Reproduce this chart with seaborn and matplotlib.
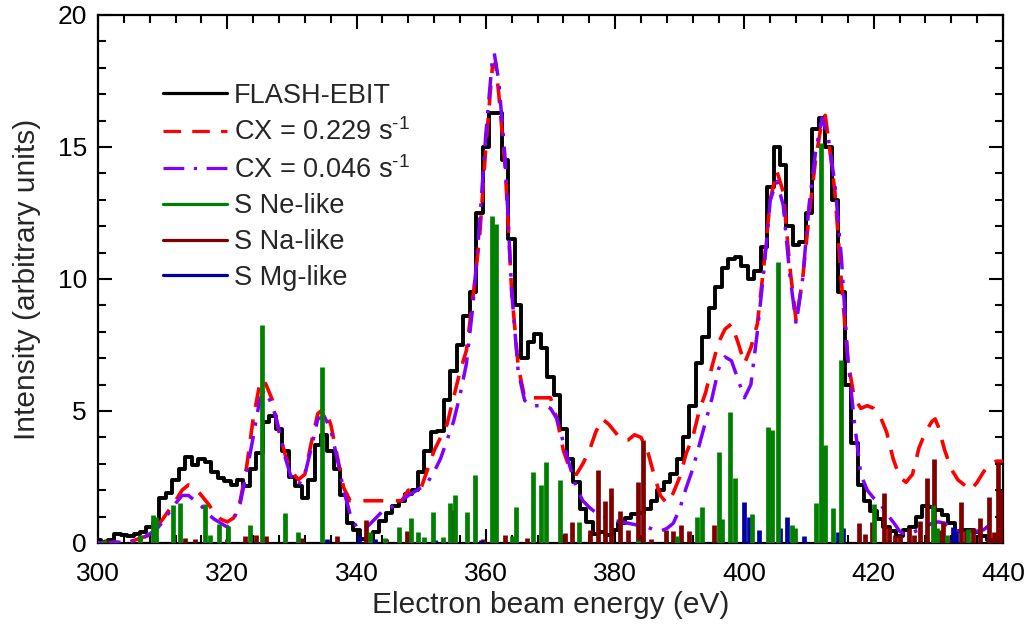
import numpy as np
import pandas as pd
import matplotlib
matplotlib.use("Agg")
import matplotlib.pyplot as plt
import seaborn as sns
from matplotlib.lines import Line2D

# ---------------- data ----------------
ebit_energy = list(range(300, 441))
ebit_intensity = [
    0.1, 0.05, 0.1, 0.35, 0.3, 0.25, 0.35, 0.4, 0.62, 0.75,
    1.7, 1.9, 2.4, 2.8, 3.25, 2.95, 3.2, 3.05, 2.7, 2.45,
    2.35, 2.2, 2.4, 2.15, 2.8, 3.4, 4.6, 4.8, 4.3, 3.5,
    2.5, 2.15, 1.7, 2.4, 3.7, 4.1, 3.5, 2.8, 1.8, 0.75,
    0.5, 0.15, 0.12, 0.4, 0.85, 1.15, 1.4, 1.6, 1.85, 2.0,
    2.7, 3.5, 4.2, 4.25, 5.4, 6.5, 7.5, 8.6, 9.5, 12.5,
    15.0, 16.3, 16.3, 14.5, 11.5, 9.0, 7.0, 7.6, 7.9, 7.4,
    6.3, 5.6, 4.3, 3.2, 2.3, 1.3, 0.8, 0.35, 0.4, 0.3,
    0.5, 0.75, 0.95, 1.1, 1.15, 1.3, 1.6, 2.0, 2.3, 2.6,
    3.2, 4.0, 5.2, 6.8, 7.8, 8.9, 9.7, 10.4, 10.75, 10.85,
    10.5, 10.0, 10.3, 11.2, 13.5, 15.0, 14.3, 12.0, 11.3, 11.4,
    12.5, 15.7, 16.1, 15.0, 13.0, 9.5, 6.0, 3.8, 2.2, 1.6,
    1.2, 0.9, 0.6, 0.45, 0.25, 0.5, 0.6, 1.0, 1.4, 1.35,
    1.25, 1.05, 0.75, 0.45, 0.5, 0.5, 0.4, 0.25, 0.12, 0.1,
    0.1,
]

cx229_energy = [300, 305, 308, 310, 312, 313, 314, 315, 316, 317, 318, 319, 320, 321, 322,
                323, 324, 325, 325.5, 326, 327, 328, 329, 330, 331, 332, 333, 334, 335, 336,
                337, 338, 339, 340, 345, 347, 348, 350, 352, 354, 355, 356, 357, 358, 359,
                360, 361, 361.5, 362, 363, 364, 365, 366, 367, 370, 371, 372, 373, 374, 375,
                376, 377, 378, 379, 380, 381, 382, 383, 384, 385, 386, 387, 388, 389, 390,
                391, 392, 393, 394, 395, 396, 397, 398, 399, 400, 401, 402, 403, 404, 405,
                406, 407, 408, 409, 410, 411, 412, 412.5, 413, 414, 415, 416, 417, 418, 419,
                420, 421, 422, 423, 424, 425, 426, 427, 428, 429, 429.5, 430, 431, 432, 433,
                434, 435, 436, 437, 438, 439, 440]
cx229_intensity = [0.0, 0.05, 0.3, 0.9, 1.6, 2.0, 2.2, 2.1, 1.8, 1.5, 1.15, 0.9, 0.8, 0.95, 1.6,
                   2.9, 4.7, 6.0, 6.2, 6.0, 5.4, 4.2, 3.3, 2.7, 2.4, 2.6, 3.8, 4.9, 5.1, 4.5,
                   3.3, 2.1, 1.6, 1.6, 1.6, 1.6, 2.0, 2.1, 3.5, 4.5, 5.5, 6.5, 7.3, 9.3, 11.5,
                   15.0, 18.0, 18.2, 17.0, 14.2, 9.5, 6.7, 5.5, 5.5, 5.5, 4.7, 3.5, 2.8, 2.6, 3.0,
                   3.5, 4.2, 4.7, 4.5, 4.2, 3.9, 3.9, 4.1, 4.0, 3.5, 2.6, 1.8, 1.5, 1.9, 2.5,
                   3.4, 4.0, 5.0, 5.7, 6.7, 7.6, 8.1, 8.3, 7.6, 6.8, 7.4, 8.3, 10.5, 13.0, 14.1,
                   13.3, 10.5, 8.4, 10.0, 12.4, 14.5, 16.0, 16.2, 15.3, 13.3, 9.9, 6.9, 5.5, 5.1, 5.2,
                   5.1, 4.8, 4.2, 3.2, 2.5, 2.3, 2.6, 3.6, 4.2, 4.6, 4.7, 4.4, 3.5, 2.8, 2.4,
                   2.2, 2.0, 2.3, 2.7, 3.0, 3.1, 3.1]

cx046_energy = [300, 305, 307, 309, 310, 312, 313, 314, 315, 316, 317, 318, 319, 320, 321,
                322, 323, 324, 325, 325.7, 326, 327, 328, 329, 330, 331, 332, 333, 334, 335,
                336, 337, 338, 339, 340, 341, 342, 343, 344, 345, 346, 347, 348, 349, 350,
                351, 352, 353, 354, 355, 356, 357, 358, 359, 360, 361, 361.3, 362, 363, 364,
                365, 366, 367, 368, 369, 370, 371, 372, 373, 374, 375, 376, 377, 378, 379,
                380, 381, 382, 383, 384, 385, 386, 387, 388, 389, 390, 391, 392, 393, 394,
                395, 396, 397, 398, 399, 400, 401, 402, 403, 404, 405, 406, 407, 408, 409,
                410, 411, 412, 413, 414, 415, 416, 417, 418, 419, 420, 421, 422, 423, 424,
                425, 426, 427, 428, 429, 430, 431, 432, 433, 434, 435, 436, 437, 438, 439, 440]
cx046_intensity = [0.0, 0.05, 0.2, 0.5, 0.8, 1.5, 1.8, 1.8, 1.6, 1.4, 1.1, 0.9, 0.75, 0.6, 0.9,
                   1.5, 2.7, 4.0, 5.4, 5.8, 5.7, 5.2, 4.3, 3.2, 2.4, 2.2, 2.6, 3.6, 4.7, 4.8,
                   4.3, 3.2, 2.0, 1.1, 0.6, 0.5, 0.7, 0.95, 1.2, 1.3, 1.45, 1.6, 1.8, 1.95, 2.1,
                   2.3, 2.7, 3.2, 3.9, 4.6, 5.6, 6.8, 9.0, 12.0, 15.5, 18.3, 18.55, 17.5, 14.5, 9.5,
                   6.5, 5.4, 5.2, 5.2, 5.2, 5.1, 4.7, 3.8, 2.9, 2.1, 1.6, 1.35, 1.15, 1.0, 0.95,
                   0.85, 0.8, 0.75, 0.7, 0.65, 0.6, 0.5, 0.45, 0.55, 0.75, 1.3, 2.1, 2.8, 3.7, 4.6,
                   5.5, 6.6, 7.05, 6.9, 6.2, 5.5, 6.0, 8.0, 10.3, 13.0, 13.7, 12.8, 10.2, 8.3, 10.0,
                   12.8, 14.8, 16.1, 15.3, 13.6, 10.8, 7.0, 4.6, 2.6, 2.0, 1.7, 1.5, 1.1, 0.8, 0.45,
                   0.3, 0.4, 0.5, 0.6, 0.75, 0.8, 0.75, 0.55, 0.45, 0.45, 0.45, 0.45, 0.5, 0.7, 0.8, 0.8]

ne_energy = [301.0, 306.5, 308.5, 308.9, 311.6, 312.7, 316.5, 317.3, 318.7, 320.1, 323.5, 325.4,
             328.9, 331.0, 334.6, 342.1, 344.4, 346.6, 348.4, 349.5, 350.4, 351.8, 353.4, 354.4,
             355.2, 357.1, 358.3, 360.9, 361.6, 364.0, 364.7, 367.3, 368.5, 369.3, 371.4, 374.4,
             383.5, 389.5, 392.7, 393.5, 396.0, 396.6, 397.8, 398.6, 401.2, 403.6, 404.3, 405.2,
             407.3, 407.8, 411.0, 411.9, 412.4, 413.7, 415.0, 420.1, 429.1, 429.8, 431.3, 434.6]
ne_intensity = [0.1, 0.3, 1.06, 1.0, 1.44, 1.5, 1.47, 0.3, 0.72, 0.66, 0.68, 8.26,
                1.13, 0.43, 6.68, 0.43, 0.2, 0.62, 0.94, 0.43, 0.24, 1.19, 0.24, 1.5,
                1.82, 1.19, 2.58, 12.4, 12.1, 0.25, 1.38, 2.7, 2.2, 3.08, 2.39, 0.81,
                0.1, 0.25, 1.0, 1.38, 3.46, 0.9, 4.97, 2.45, 1.1, 4.4, 4.28, 10.65,
                0.68, 0.57, 1.5, 15.14, 3.7, 1.32, 6.93, 1.47, 1.44, 0.55, 0.3, 0.53]

na_energy = [301.2, 313.5, 315.0, 320.0, 322.7, 324.5, 326.0, 331.5, 336.9, 341.4, 344.5, 347.8,
             354.9, 359.5, 363.0, 366.3, 372.3, 373.4, 376.1, 377.3, 378.5, 379.3, 380.7, 382.0,
             383.6, 384.3, 385.5, 387.8, 388.9, 390.2, 391.5, 395.3, 417.8, 418.6, 419.8, 421.6,
             422.4, 423.3, 424.0, 425.5, 426.2, 427.2, 428.3, 429.4, 430.1, 430.7, 431.8, 433.5,
             434.3, 435.4, 436.5, 437.8, 438.6, 439.2, 439.9]
na_intensity = [0.15, 0.2, 0.15, 0.15, 0.25, 0.3, 0.25, 0.2, 0.25, 0.87, 0.15, 0.45,
                1.25, 0.15, 0.3, 0.2, 0.38, 0.81, 0.5, 2.77, 1.6, 2.1, 1.2, 0.5,
                2.32, 3.9, 0.15, 0.5, 0.45, 0.7, 0.45, 0.7, 0.75, 0.35, 0.8, 1.89,
                0.6, 0.3, 0.3, 0.55, 0.3, 0.85, 2.47, 3.2, 0.5, 0.8, 0.15, 1.57,
                0.5, 0.55, 0.95, 1.76, 0.4, 3.08, 2.0]

mg_energy = [335.5, 340.3, 342.8, 352.2, 359.2, 399.9, 400.7, 402.3, 405.5, 406.6, 409.2,
             414.5, 415.3, 432.3, 432.8]
mg_intensity = [0.15, 0.25, 0.15, 0.1, 0.12, 1.57, 1.0, 0.5, 0.55, 1.0, 0.25,
                0.4, 0.55, 0.6, 0.45]

x_ticks = [300, 320, 340, 360, 380, 400, 420, 440]
y_ticks = [0, 5, 10, 15, 20]

# ---------------- style ----------------
sns.set_theme(style="ticks")
plt.rcParams['font.family'] = ['Liberation Sans', 'DejaVu Sans']
plt.rcParams['mathtext.fontset'] = 'custom'
plt.rcParams['mathtext.rm'] = 'Liberation Sans'
plt.rcParams['mathtext.default'] = 'regular'

fig = plt.figure(figsize=(10.33, 6.37), dpi=100)
ax = fig.add_axes([98 / 1033, 1 - 543 / 637, 905 / 1033, 528 / 637])
ax.set_facecolor('white')

lab_a = 'CX = 0.229 s$^{\\text{-}1}$'
lab_b = 'CX = 0.046 s$^{\\text{-}1}$'

df_ebit = pd.DataFrame({'E': ebit_energy, 'I': ebit_intensity})
df_a = pd.DataFrame({'E': cx229_energy, 'I': cx229_intensity})
df_b = pd.DataFrame({'E': cx046_energy, 'I': cx046_intensity})

sns.lineplot(data=df_ebit, x='E', y='I', ax=ax, color='black', linewidth=2.8,
             drawstyle='steps-mid', estimator=None, sort=False, zorder=3,
             label='FLASH-EBIT')
sns.lineplot(data=df_a, x='E', y='I', ax=ax, color='#FF0000', linewidth=2.6,
             linestyle=(0, (5.5, 3.5)), estimator=None, sort=False, zorder=4,
             label=lab_a)
sns.lineplot(data=df_b, x='E', y='I', ax=ax, color='#7F00FF', linewidth=2.5,
             linestyle=(0, (6.5, 3.0, 1.0, 3.0)), estimator=None, sort=False, zorder=5,
             label=lab_b)

lw_stick = 3.4
ax.vlines(na_energy, 0, na_intensity, colors='#800000', linewidth=lw_stick, zorder=6)
ax.vlines(mg_energy, 0, mg_intensity, colors='#0000A8', linewidth=lw_stick, zorder=7)
ax.vlines(ne_energy, 0, ne_intensity, colors='#008000', linewidth=lw_stick, zorder=8)

ax.set_xlim(300, 440)
ax.set_ylim(0, 20)
ax.set_xticks(x_ticks)
ax.set_yticks(y_ticks)
ax.xaxis.set_minor_locator(matplotlib.ticker.MultipleLocator(4))
ax.yaxis.set_minor_locator(matplotlib.ticker.MultipleLocator(1))
ax.tick_params(which='both', direction='in', top=True, right=True, width=1.5,
               colors='black', labelsize=19)
ax.tick_params(axis='x', which='major', pad=14)
ax.tick_params(axis='y', which='major', pad=8)
ax.tick_params(which='major', length=10)
ax.tick_params(which='minor', length=5.5)
for s in ax.spines.values():
    s.set_linewidth(1.6)
    s.set_color('black')
    s.set_visible(True)

ax.set_xlabel('Electron beam energy (eV)', fontsize=21.5, labelpad=3)
ax.set_ylabel('Intensity (arbitrary units)', fontsize=21.5, labelpad=12)

handles, labels = ax.get_legend_handles_labels()
lmap = dict(zip(labels, handles))
order = ['FLASH-EBIT', lab_a, lab_b]
hs = [lmap[k] for k in order]
hs += [Line2D([], [], color='#008000', linewidth=2.5),
       Line2D([], [], color='#800000', linewidth=2.5),
       Line2D([], [], color='#0000A8', linewidth=2.5)]
ls = order + ['S Ne-like', 'S Na-like', 'S Mg-like']
leg = ax.legend(hs, ls, loc='upper left', bbox_to_anchor=(0.072, 0.872), frameon=False,
                fontsize=19.5, handlelength=2.35, handletextpad=0.27, labelspacing=0.36,
                borderpad=0, borderaxespad=0)
for h in leg.get_lines():
    h.set_linewidth(2.3)

fig.savefig('out.png', dpi=100, facecolor='white')
